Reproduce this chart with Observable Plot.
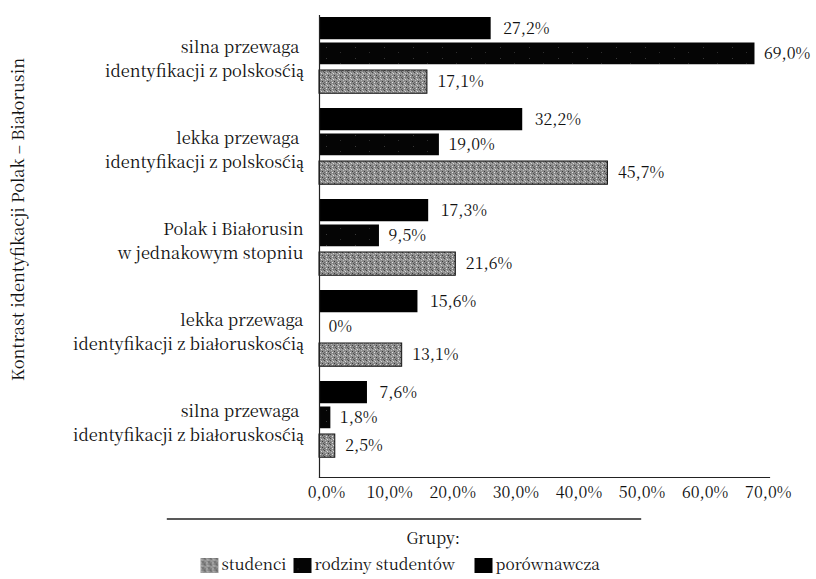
<!DOCTYPE html>
<html>
<head>
<meta charset="utf-8">
<script src="https://cdn.jsdelivr.net/npm/d3@7"></script>
<script src="https://cdn.jsdelivr.net/npm/@observablehq/plot@0.6"></script>
</head>
<body style="margin:0;background:#fff">
<svg width="0" height="0" style="position:absolute">
  <defs>
    <pattern id="studenciPat" width="6" height="6" patternUnits="userSpaceOnUse">
      <rect width="6" height="6" fill="#8c8c8c"/>
      <rect x="0" y="0" width="1" height="1" fill="#444"/>
      <rect x="3" y="1" width="1" height="1" fill="#d8d8d8"/>
      <rect x="1" y="2" width="1" height="1" fill="#bbb"/>
      <rect x="4" y="3" width="1" height="1" fill="#3a3a3a"/>
      <rect x="2" y="4" width="1" height="1" fill="#e0e0e0"/>
      <rect x="5" y="5" width="1" height="1" fill="#555"/>
      <rect x="0" y="4" width="1" height="1" fill="#666"/>
      <rect x="5" y="1" width="1" height="1" fill="#aaa"/>
      <rect x="2" y="0" width="1" height="1" fill="#bdbdbd"/>
      <rect x="3" y="5" width="1" height="1" fill="#777"/>
    </pattern>
    <pattern id="rodzinyPat" width="29" height="11" patternUnits="userSpaceOnUse">
      <rect width="29" height="11" fill="#050505"/>
      <rect x="7" y="3" width="1" height="1" fill="#3a3a3a"/>
      <rect x="21" y="8" width="1" height="1" fill="#2e2e2e"/>
    </pattern>
  </defs>
</svg>
<div id="wrap" style="width:816px;height:579px"></div>
<script>
// ---- data ----
const categories = [
  "silna przewaga identyfikacji z polskością",
  "lekka przewaga identyfikacji z polskością",
  "Polak i Białorusin w jednakowym stopniu",
  "lekka przewaga identyfikacji z białoruskością",
  "silna przewaga identyfikacji z białoruskością"
];
const categoryLabels = [
  "silna przewaga\u00a0\nidentyfikacji z polskością",
  "lekka przewaga\u00a0\nidentyfikacji z polskością",
  "Polak i Białorusin\nw jednakowym stopniu",
  "lekka przewaga\nidentyfikacji z białoruskością",
  "silna przewaga\u00a0\nidentyfikacji z białoruskością"
];
const seriesNames = ["studenci", "rodziny studentów", "porównawcza"];
const porownawcza = [27.2, 32.2, 17.3, 15.6, 7.6];
const rodziny = [69.0, 19.0, 9.5, 0, 1.8];
const studenci = [17.1, 45.7, 21.6, 13.1, 2.5];
const xTicks = [0, 10, 20, 30, 40, 50, 60, 70];
const axisTitle = "Kontrast identyfikacji Polak – Białorusin";
const legendTitle = "Grupy:";

const FONT = "Noto Serif CJK SC";

// ---- tables ----
const rowsOf = (vals, series) => vals.map((v, i) => ({category: categories[i], value: v, series}));
const rowsP = rowsOf(porownawcza, "porównawcza");
const rowsR = rowsOf(rodziny, "rodziny studentów");
const rowsS = rowsOf(studenci, "studenci");

const pct = v => v === 0 ? "0%" : v.toFixed(1).replace(".", ",") + "%";

const chart = Plot.plot({
  width: 816,
  height: 510,
  marginLeft: 319,
  marginRight: 47,
  marginTop: 15,
  marginBottom: 33,
  style: {fontFamily: FONT, fontSize: "16px", color: "#111", background: "white", overflow: "visible"},
  x: {domain: [0, 71.3], axis: null},
  y: {domain: categories, paddingInner: 0, paddingOuter: 0.0315, align: 0, axis: null},
  marks: [
    Plot.barX(rowsP, {x: "value", y: "category", fill: "#000", insetTop: 2, insetBottom: 66.75}),
    Plot.barX(rowsR, {x: "value", y: "category", fill: "url(#rodzinyPat)", insetTop: 27.5, insetBottom: 41.75}),
    Plot.barX(rowsS, {x: "value", y: "category", fill: "url(#studenciPat)", stroke: "#111", strokeWidth: 1, insetTop: 55, insetBottom: 12.75}),
    Plot.text(rowsP, {x: "value", y: "category", text: d => pct(d.value), dx: 12, dy: -32.4, textAnchor: "start", fontSize: 16}),
    Plot.text(rowsR, {x: "value", y: "category", text: d => pct(d.value), dx: 9, dy: -7.1, textAnchor: "start", fontSize: 16}),
    Plot.text(rowsS, {x: "value", y: "category", text: d => pct(d.value), dx: 10, dy: 21.1, textAnchor: "start", fontSize: 16}),
    Plot.text(categories, {y: d => d, text: (d, i) => categoryLabels[i], frameAnchor: "left", dx: -16, dy: -4, textAnchor: "end", lineHeight: 1.5, fontSize: 16.4}),
    Plot.text([axisTitle], {frameAnchor: "left", rotate: -90, dx: -307, dy: -27, textAnchor: "middle", lineAnchor: "top", fontSize: 16.5}),
    Plot.axisX({ticks: xTicks, tickSize: 0, tickPadding: 9, dx: 7, tickFormat: d => d.toFixed(1).replace(".", ",") + "%", fontSize: 16, label: null}),
    Plot.frame({anchor: "left", stroke: "#222", strokeWidth: 1.2}),
    Plot.frame({anchor: "bottom", stroke: "#222", strokeWidth: 1.2})
  ]
});
const wrap = document.getElementById("wrap");
wrap.appendChild(chart);

// ---- legend (below the chart), drawn with Plot too ----
const fills = {"studenci": "url(#studenciPat)", "rodziny studentów": "url(#rodzinyPat)", "porównawcza": "#000"};
const LW = 816, LH = 69, LL = 167, LR = 176, LT = 8.5;
const swStarts = [200, 293, 474];   // legend layout (pixels)
const swW = 18, swH = 15, rowY = 55;
const legendMarks = [
  Plot.frame({anchor: "top", stroke: "#222", strokeWidth: 1.4}),
  Plot.text([legendTitle], {frameAnchor: "top-left", dx: 406 - LL, dy: 28 - LT, lineAnchor: "middle", textAnchor: "start", fontSize: 16})
];
seriesNames.forEach((name, i) => {
  const x0 = swStarts[i];
  legendMarks.push(Plot.frame({
    fill: fills[name], stroke: null,
    insetLeft: x0 - LL, insetRight: (LW - LR) - (x0 + swW),
    insetTop: rowY - swH / 2 - LT, insetBottom: (LH - rowY) - swH / 2
  }));
  legendMarks.push(Plot.text([name], {frameAnchor: "top-left", dx: x0 + swW + 3 - LL, dy: rowY - LT, lineAnchor: "middle", textAnchor: "start", fontSize: 15.5}));
});
const legendPlot = Plot.plot({
  width: LW, height: LH,
  marginLeft: LL, marginRight: LR, marginTop: LT, marginBottom: 0,
  style: {fontFamily: FONT, fontSize: "16px", color: "#111", background: "white", overflow: "visible"},
  marks: legendMarks
});
wrap.appendChild(legendPlot);
</script>
</body>
</html>
